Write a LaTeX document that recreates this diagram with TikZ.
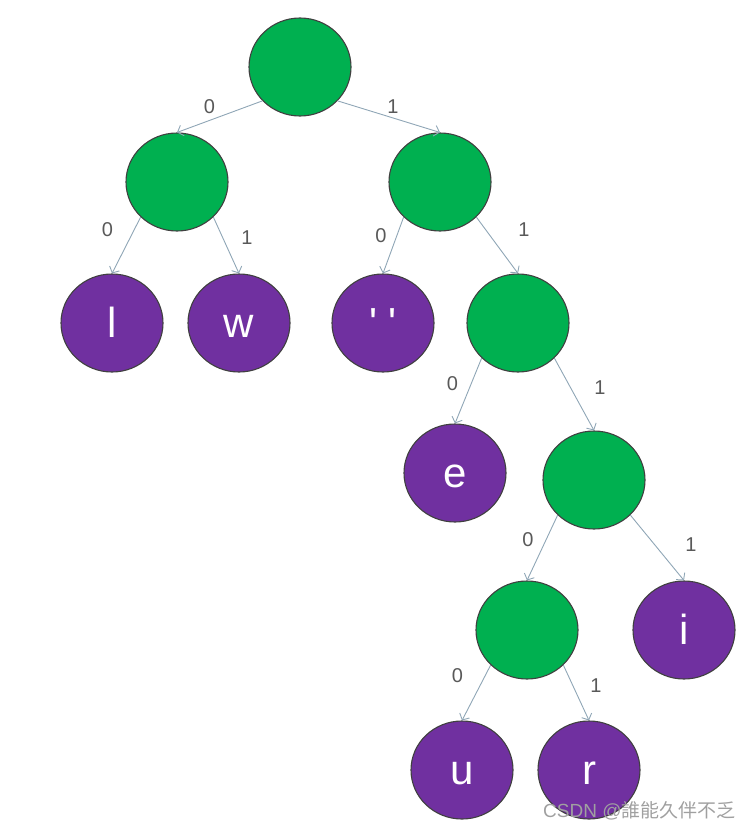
\documentclass[tikz,border=0pt]{standalone}
\usepackage{fontspec}
\setmainfont{Liberation Sans}
\newfontfamily\cjk{Noto Sans CJK SC}
\usetikzlibrary{shapes.geometric,arrows.meta}
\definecolor{ngreen}{HTML}{00B050}
\definecolor{npurple}{HTML}{7030A0}
\definecolor{nline}{HTML}{404040}
\definecolor{eline}{HTML}{8FA6B6}
\definecolor{lbl}{HTML}{595959}
\definecolor{wm}{HTML}{A0A0A0}
\begin{document}
\begin{tikzpicture}[x=1pt,y=-1pt,
  inner/.style={ellipse, draw=nline, line width=1.1pt, fill=ngreen, minimum width=102pt, minimum height=98pt, inner sep=0pt},
  leaf/.style={inner, fill=npurple, text=white, font=\fontsize{42}{42}\selectfont, text height=28pt, text depth=0pt},
  edge/.style={draw=eline, line width=0.9pt, -{Straight Barb[length=5pt,width=11pt]}},
  bit/.style={text=lbl, font=\fontsize{20}{20}\selectfont, inner sep=0pt}]
\useasboundingbox (0,0) rectangle (750,830);
% nodes
\node[inner] (root) at (300,67) {};
\node[inner] (a) at (177,182) {};
\node[inner] (b) at (440,182) {};
\node[leaf] (l) at (112,323) {l};
\node[leaf] (w) at (239,323) {w};
\node[leaf] (sp) at (383,323) {\textquotesingle{} \textquotesingle};
\node[inner] (c) at (518,323) {};
\node[leaf] (e) at (455,473) {e};
\node[inner] (d) at (594,480) {};
\node[inner] (f) at (527,630) {};
\node[leaf] (i) at (684,630) {i};
\node[leaf] (u) at (462,770) {u};
\node[leaf] (r) at (589,770) {r};
% edges
\draw[edge] (root.-138) -- (a.north);
\draw[edge] (root.-42) -- (b.north);
\draw[edge] (a.-136) -- (l.north);
\draw[edge] (a.-44) -- (w.north);
\draw[edge] (b.-136) -- (sp.north);
\draw[edge] (b.-44) -- (c.north);
\draw[edge] (c.-136) -- (e.north);
\draw[edge] (c.-44) -- (d.north);
\draw[edge] (d.-136) -- (f.north);
\draw[edge] (d.-44) -- (i.north);
\draw[edge] (f.-136) -- (u.north);
\draw[edge] (f.-44) -- (r.north);
% labels
\node[bit] (t1) at (209.5,106.5) {0};
\node[bit] (t2) at (393,106.5) {1};
\node[bit] (t3) at (107.5,229.5) {0};
\node[bit] (t4) at (247,238) {1};
\node[bit] (t5) at (381,236) {0};
\node[bit] (t6) at (524,229.5) {1};
\node[bit] (t7) at (452.5,383.5) {0};
\node[bit] (t8) at (600,387.5) {1};
\node[bit] (t9) at (528,540) {0};
\node[bit] (t10) at (691,544.5) {1};
\node[bit] (t11) at (457.5,676) {0};
\node[bit] (t12) at (596,685.5) {1};
% watermark
\node[anchor=west, text=wm, inner sep=0pt, font=\fontsize{19}{19}\selectfont] (wmk) at (543,810.5) {CSDN @{\cjk 誰能久伴不乏}};
\end{tikzpicture}
\end{document}
